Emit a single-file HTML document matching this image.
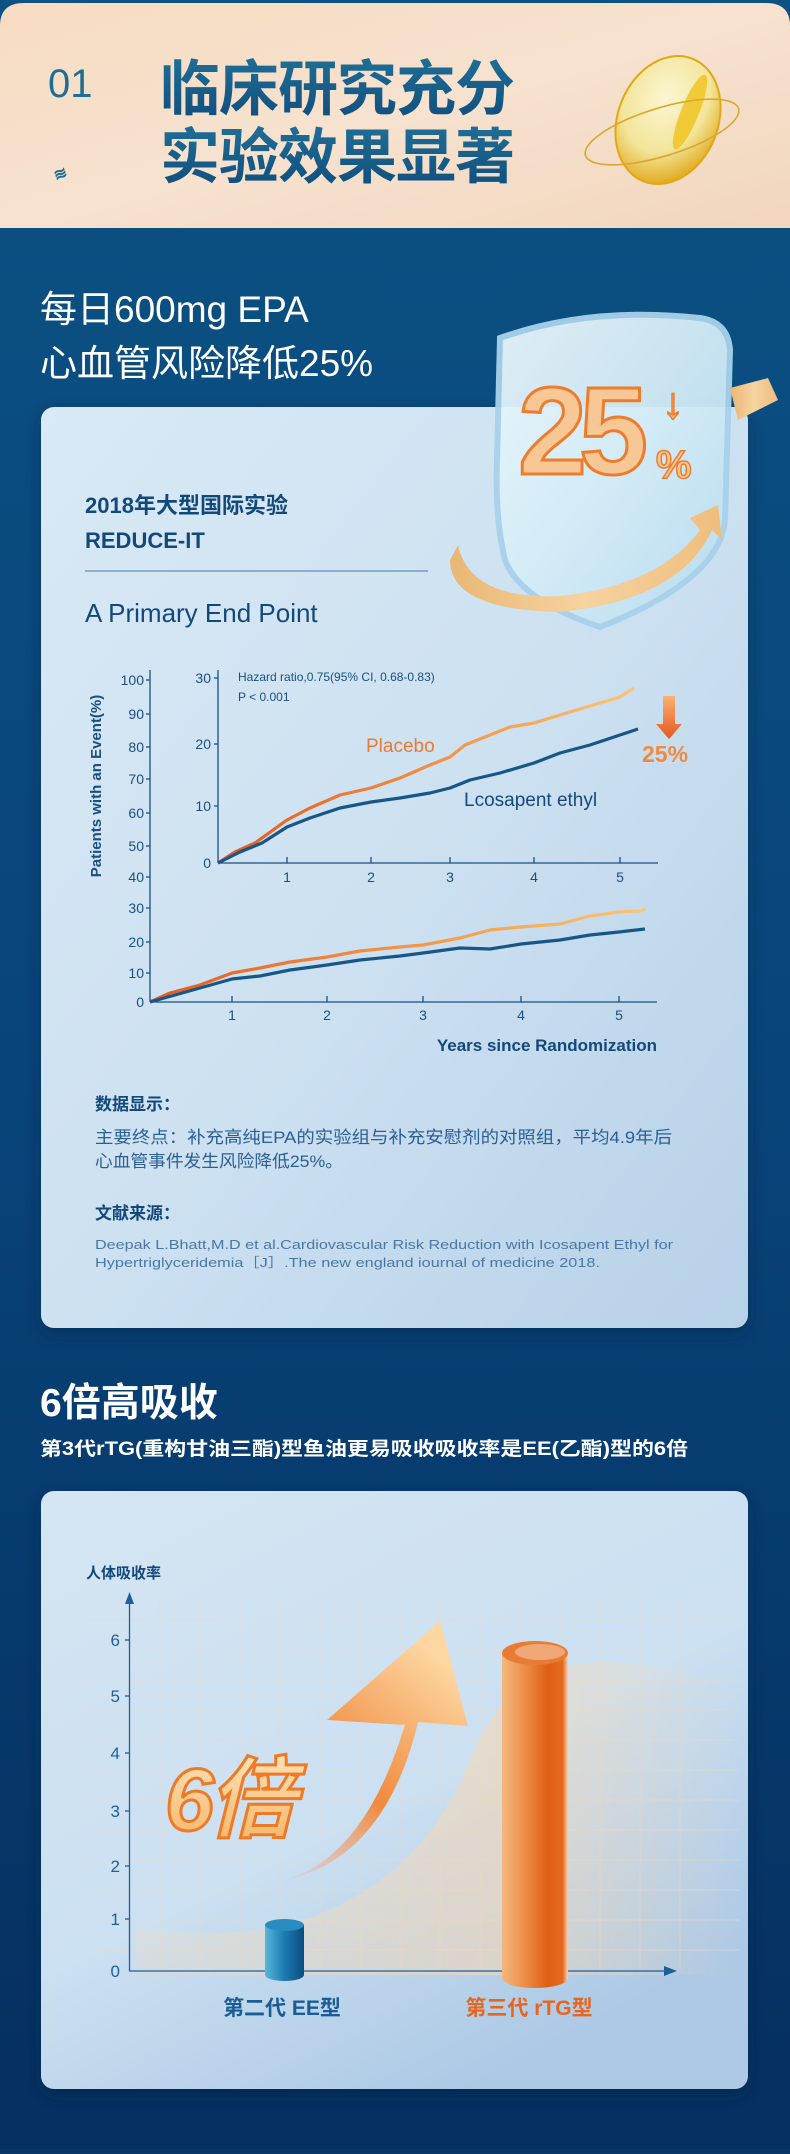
<!DOCTYPE html>
<html><head><meta charset="utf-8"><style>
html,body{margin:0;padding:0;background:#073664;}
body{width:790px;height:2149px;overflow:hidden;}
svg text{font-family:"Liberation Sans","Noto Sans CJK SC",sans-serif;}
</style></head><body>
<svg width="790" height="2149" viewBox="0 0 790 2149" xmlns="http://www.w3.org/2000/svg">
<defs>
<linearGradient id="bg" x1="0" y1="0" x2="0" y2="1">
<stop offset="0" stop-color="#0c5283"/><stop offset="0.5" stop-color="#08447a"/><stop offset="1" stop-color="#052f5f"/></linearGradient>
<linearGradient id="hdr" x1="0" y1="0" x2="1" y2="1">
<stop offset="0" stop-color="#f7dcc2"/><stop offset="0.5" stop-color="#f6e2cf"/><stop offset="1" stop-color="#f2d6bd"/></linearGradient>
<linearGradient id="ttl" x1="0" y1="0" x2="0" y2="1">
<stop offset="0" stop-color="#1f6f97"/><stop offset="1" stop-color="#104d7c"/></linearGradient>
<linearGradient id="card1" x1="0" y1="0" x2="1" y2="1">
<stop offset="0" stop-color="#d9e9f5"/><stop offset="0.5" stop-color="#cde1f1"/><stop offset="1" stop-color="#b7d1e8"/></linearGradient>
<linearGradient id="card2" x1="0" y1="0" x2="0.6" y2="1">
<stop offset="0" stop-color="#d5e5f3"/><stop offset="0.6" stop-color="#cbe0f1"/><stop offset="1" stop-color="#adc9e5"/></linearGradient>
<linearGradient id="plc" gradientUnits="userSpaceOnUse" x1="218" y1="0" x2="640" y2="0">
<stop offset="0" stop-color="#e4581f"/><stop offset="0.45" stop-color="#ef8a3e"/><stop offset="1" stop-color="#fcc676"/></linearGradient>
<linearGradient id="plc2" gradientUnits="userSpaceOnUse" x1="150" y1="0" x2="650" y2="0">
<stop offset="0" stop-color="#e4581f"/><stop offset="0.4" stop-color="#ef8a3e"/><stop offset="1" stop-color="#fcc676"/></linearGradient>
<linearGradient id="arr" x1="0" y1="0" x2="0" y2="1">
<stop offset="0" stop-color="#f9b272"/><stop offset="1" stop-color="#e4581f"/></linearGradient>
<linearGradient id="orcyl" x1="0" y1="0" x2="1" y2="0">
<stop offset="0" stop-color="#f3b880"/><stop offset="0.35" stop-color="#ec8c45"/><stop offset="0.7" stop-color="#df5e14"/><stop offset="0.92" stop-color="#e46a1f"/><stop offset="1" stop-color="#f7d4b5"/></linearGradient>
<linearGradient id="blcyl" x1="0" y1="0" x2="1" y2="0">
<stop offset="0" stop-color="#5ab6dc"/><stop offset="0.5" stop-color="#1b7bb1"/><stop offset="1" stop-color="#0c4c80"/></linearGradient>
<linearGradient id="bigarr" x1="0" y1="1" x2="0.6" y2="0">
<stop offset="0" stop-color="#f3b19a" stop-opacity="0.2"/><stop offset="0.45" stop-color="#f08a3e"/><stop offset="1" stop-color="#fdd6a0"/></linearGradient>
<linearGradient id="six" x1="0" y1="0" x2="0" y2="1">
<stop offset="0" stop-color="#fde3bb"/><stop offset="1" stop-color="#f5b466"/></linearGradient>
<linearGradient id="wave" x1="0" y1="0" x2="1" y2="0">
<stop offset="0" stop-color="#f8d9b8" stop-opacity="0.25"/><stop offset="0.6" stop-color="#f8d6b0" stop-opacity="0.55"/><stop offset="1" stop-color="#f8d6b0" stop-opacity="0"/></linearGradient>
<linearGradient id="shield" x1="0" y1="0" x2="1" y2="1">
<stop offset="0" stop-color="#eaf6fc"/><stop offset="0.5" stop-color="#d3ecf7"/><stop offset="1" stop-color="#b7dcef"/></linearGradient>
<linearGradient id="gold" x1="0" y1="0" x2="1" y2="0">
<stop offset="0" stop-color="#e9b774"/><stop offset="0.5" stop-color="#f6d3a0"/><stop offset="1" stop-color="#eebd7c"/></linearGradient>
<radialGradient id="caps" cx="0.4" cy="0.35" r="0.7">
<stop offset="0" stop-color="#fbf6d4"/><stop offset="0.6" stop-color="#f3e59a"/><stop offset="1" stop-color="#e0a615"/></radialGradient>
<filter id="sh" x="-10%" y="-10%" width="120%" height="130%"><feDropShadow dx="0" dy="6" stdDeviation="8" flood-color="#02203f" flood-opacity="0.45"/></filter>
</defs>

<rect width="790" height="2149" fill="url(#bg)"/>
<path d="M0,26 Q0,3 24,3 L766,3 Q790,3 790,26 L790,228 L0,228 Z" fill="url(#hdr)"/>
<text x="48" y="97" font-size="40" fill="#1f6d94">01</text>
<text x="54" y="180" font-size="16" fill="#1f6d94" font-weight="bold" transform="rotate(-20 58 175)">≋</text>
<text x="160" y="110" font-size="60" font-weight="bold" fill="url(#ttl)" letter-spacing="-1">临床研究充分</text>
<text x="160" y="178" font-size="60" font-weight="bold" fill="url(#ttl)" letter-spacing="-1">实验效果显著</text>
<ellipse cx="668" cy="120" rx="50" ry="66" transform="rotate(22 668 120)" fill="url(#caps)" stroke="#e0a812" stroke-width="2"/>
<ellipse cx="690" cy="112" rx="9" ry="40" transform="rotate(22 690 112)" fill="#f0c21a" opacity="0.8"/>
<ellipse cx="662" cy="132" rx="80" ry="24" transform="rotate(-17 662 132)" fill="none" stroke="#d9a830" stroke-width="1.6"/>

<text x="40" y="322" font-size="37" fill="#ffffff">每日600mg EPA</text>
<text x="40" y="376" font-size="37" fill="#ffffff">心血管风险降低25%</text>

<rect x="41" y="407" width="707" height="921" rx="13" fill="url(#card1)" filter="url(#sh)"/>
<text x="85" y="513" font-size="22" font-weight="bold" fill="#13497a">2018年大型国际实验</text>
<text x="85" y="548" font-size="22" font-weight="bold" fill="#13497a">REDUCE-IT</text>
<line x1="85" y1="571" x2="428" y2="571" stroke="#4a78a2" stroke-width="1"/>
<text x="85" y="622" font-size="26" fill="#13497a">A Primary End Point</text>

<path d="M500,338 Q590,306 700,318 Q728,322 730,350 L725,520 Q720,580 600,627 Q520,600 505,560 Q495,520 497,460 Z" fill="url(#shield)" stroke="#a8d2ea" stroke-width="6" opacity="0.95"/>
<path d="M458,545 Q470,600 560,596 Q660,585 700,530 L690,518 L718,505 L722,540 L712,530 Q680,600 560,612 Q450,610 450,560 Z" fill="url(#gold)"/>
<path d="M730,388 L768,378 L778,400 L738,420 Z" fill="url(#gold)"/>
<text x="518" y="474" font-size="124" font-weight="bold" fill="#f7c896" stroke="#ee7c2a" stroke-width="3" letter-spacing="-8">25</text>
<text x="662" y="418" font-size="44" font-weight="bold" fill="#f7c896" stroke="#ee7c2a" stroke-width="1.5">↓</text>
<text x="656" y="478" font-size="40" font-weight="bold" fill="#f7c896" stroke="#ee7c2a" stroke-width="1.5">%</text>

<g font-size="14" fill="#1a4f80" stroke="none" text-anchor="end">
<text x="144" y="685">100</text><text x="144" y="719">90</text><text x="144" y="752">80</text><text x="144" y="784">70</text><text x="144" y="818">60</text><text x="144" y="851">50</text><text x="144" y="882">40</text><text x="144" y="913">30</text><text x="144" y="947">20</text><text x="144" y="978">10</text><text x="144" y="1007">0</text>
</g>
<g stroke="#1a4f80" stroke-width="1.3">
<line x1="150" y1="670" x2="150" y2="1002"/><line x1="150" y1="1002" x2="657" y2="1002"/>
<line x1="146" y1="680" x2="150" y2="680"/><line x1="146" y1="714" x2="150" y2="714"/><line x1="146" y1="747" x2="150" y2="747"/><line x1="146" y1="779" x2="150" y2="779"/><line x1="146" y1="813" x2="150" y2="813"/><line x1="146" y1="846" x2="150" y2="846"/><line x1="146" y1="877" x2="150" y2="877"/><line x1="146" y1="908" x2="150" y2="908"/><line x1="146" y1="942" x2="150" y2="942"/><line x1="146" y1="973" x2="150" y2="973"/>
<line x1="232" y1="1002" x2="232" y2="996"/><line x1="327" y1="1002" x2="327" y2="996"/><line x1="423" y1="1002" x2="423" y2="996"/><line x1="521" y1="1002" x2="521" y2="996"/><line x1="619" y1="1002" x2="619" y2="996"/>
<line x1="218" y1="670" x2="218" y2="863"/><line x1="218" y1="863" x2="658" y2="863"/>
<line x1="214" y1="678" x2="218" y2="678"/><line x1="214" y1="744" x2="218" y2="744"/><line x1="214" y1="806" x2="218" y2="806"/>
<line x1="287" y1="863" x2="287" y2="857"/><line x1="371" y1="863" x2="371" y2="857"/><line x1="450" y1="863" x2="450" y2="857"/><line x1="534" y1="863" x2="534" y2="857"/><line x1="620" y1="863" x2="620" y2="857"/>
</g>
<g font-size="14" fill="#1a4f80" text-anchor="middle">
<text x="232" y="1020">1</text><text x="327" y="1020">2</text><text x="423" y="1020">3</text><text x="521" y="1020">4</text><text x="619" y="1020">5</text>
<text x="287" y="882">1</text><text x="371" y="882">2</text><text x="450" y="882">3</text><text x="534" y="882">4</text><text x="620" y="882">5</text>
</g>
<g font-size="14" fill="#1a4f80" text-anchor="end">
<text x="211" y="683">30</text><text x="211" y="749">20</text><text x="211" y="811">10</text><text x="211" y="868">0</text>
</g>
<text transform="translate(101 786) rotate(-90)" text-anchor="middle" font-size="15" font-weight="bold" fill="#1a4f80">Patients with an Event(%)</text>
<text x="657" y="1051" text-anchor="end" font-size="17" font-weight="bold" fill="#13497a">Years since Randomization</text>
<text x="238" y="681" font-size="12" fill="#1a4f80">Hazard ratio,0.75(95% CI, 0.68-0.83)</text>
<text x="238" y="701" font-size="12" fill="#1a4f80">P &lt; 0.001</text>
<text x="366" y="752" font-size="19" fill="#ec7a32">Placebo</text>
<text x="464" y="806" font-size="19" fill="#13497a">Lcosapent ethyl</text>
<path d="M663,696 L675,696 L675,724 L682,724 L669,739 L656,724 L663,724 Z" fill="url(#arr)"/>
<text x="642" y="762" font-size="23" font-weight="bold" fill="#f08a3e">25%</text>

<g fill="none" stroke-width="3.2" stroke-linejoin="round">
<polyline stroke="url(#plc)" points="218,863 235,852 255,843 287,820 310,808 340,795 371,788 400,778 430,765 450,757 465,745 490,735 510,727 534,723 560,715 590,706 620,697 634,688"/>
<polyline stroke="#175787" points="218,863 240,852 262,843 287,827 310,818 340,808 371,802 400,798 430,793 450,788 470,780 500,773 534,763 560,753 590,745 620,735 638,729"/>
<polyline stroke="url(#plc2)" points="150,1002 170,993 200,985 232,973 260,968 290,962 327,957 360,951 400,947 423,945 460,938 490,930 521,927 560,924 590,916 619,912 640,911 646,909"/>
<polyline stroke="#175787" points="150,1002 175,995 200,988 232,979 260,976 290,970 327,965 360,960 400,956 423,953 460,948 490,949 521,944 560,940 590,935 619,932 645,929"/>
</g>

<text x="95" y="1110" font-size="17" font-weight="bold" fill="#13497a">数据显示：</text>
<text x="95" y="1143" font-size="17" fill="#2b5f93" textLength="577" lengthAdjust="spacingAndGlyphs">主要终点：补充高纯EPA的实验组与补充安慰剂的对照组，平均4.9年后</text>
<text x="95" y="1167" font-size="17" fill="#2b5f93" textLength="248" lengthAdjust="spacingAndGlyphs">心血管事件发生风险降低25%。</text>
<text x="95" y="1219" font-size="17" font-weight="bold" fill="#13497a">文献来源：</text>
<text x="95" y="1249" font-size="13" fill="#4a78a2" textLength="578" lengthAdjust="spacingAndGlyphs">Deepak L.Bhatt,M.D et al.Cardiovascular Risk Reduction with Icosapent Ethyl for</text>
<text x="95" y="1267" font-size="13" fill="#4a78a2" textLength="505" lengthAdjust="spacingAndGlyphs">Hypertriglyceridemia［J］.The new england iournal of medicine 2018.</text>

<text x="40" y="1416" font-size="39" font-weight="bold" fill="#ffffff">6倍高吸收</text>
<text x="40" y="1455" font-size="19" font-weight="bold" fill="#ffffff" textLength="648" lengthAdjust="spacingAndGlyphs">第3代rTG(重构甘油三酯)型鱼油更易吸收吸收率是EE(乙酯)型的6倍</text>

<rect x="41" y="1491" width="707" height="598" rx="13" fill="url(#card2)" filter="url(#sh)"/>
<g stroke="#e8d8c8" stroke-width="0.7" opacity="0.7">
<line x1="90" y1="1620" x2="740" y2="1620"/><line x1="90" y1="1650" x2="740" y2="1650"/><line x1="90" y1="1680" x2="740" y2="1680"/><line x1="90" y1="1710" x2="740" y2="1710"/><line x1="90" y1="1740" x2="740" y2="1740"/><line x1="90" y1="1770" x2="740" y2="1770"/><line x1="90" y1="1800" x2="740" y2="1800"/><line x1="90" y1="1830" x2="740" y2="1830"/><line x1="90" y1="1860" x2="740" y2="1860"/><line x1="90" y1="1890" x2="740" y2="1890"/><line x1="90" y1="1920" x2="740" y2="1920"/><line x1="90" y1="1950" x2="740" y2="1950"/>
<line x1="160" y1="1600" x2="160" y2="1970"/><line x1="200" y1="1600" x2="200" y2="1970"/><line x1="240" y1="1600" x2="240" y2="1970"/><line x1="280" y1="1600" x2="280" y2="1970"/><line x1="320" y1="1600" x2="320" y2="1970"/><line x1="360" y1="1600" x2="360" y2="1970"/><line x1="400" y1="1600" x2="400" y2="1970"/><line x1="440" y1="1600" x2="440" y2="1970"/><line x1="480" y1="1600" x2="480" y2="1970"/><line x1="520" y1="1600" x2="520" y2="1970"/><line x1="560" y1="1600" x2="560" y2="1970"/><line x1="600" y1="1600" x2="600" y2="1970"/><line x1="640" y1="1600" x2="640" y2="1970"/><line x1="680" y1="1600" x2="680" y2="1970"/>
</g>
<path d="M135,1928 Q260,1945 340,1905 Q430,1860 470,1760 Q510,1660 610,1662 Q680,1665 740,1690 L740,1975 L135,1975 Z" fill="url(#wave)"/>
<text x="86" y="1578" font-size="15" font-weight="bold" fill="#13497a">人体吸收率</text>
<g stroke="#1d5f9a" stroke-width="1.3">
<line x1="129.5" y1="1600" x2="129.5" y2="1971"/><line x1="129" y1="1971" x2="668" y2="1971"/>
<line x1="125" y1="1640" x2="129" y2="1640"/><line x1="125" y1="1696" x2="129" y2="1696"/><line x1="125" y1="1753" x2="129" y2="1753"/><line x1="125" y1="1811" x2="129" y2="1811"/><line x1="125" y1="1866" x2="129" y2="1866"/><line x1="125" y1="1919" x2="129" y2="1919"/>
</g>
<path d="M129.5,1592 L134,1604 L125,1604 Z" fill="#1d5f9a"/>
<path d="M677,1971 L664,1966 L664,1976 Z" fill="#1d5f9a"/>
<g font-size="17" fill="#1d5f9a" text-anchor="end">
<text x="120" y="1646">6</text><text x="120" y="1702">5</text><text x="120" y="1759">4</text><text x="120" y="1817">3</text><text x="120" y="1872">2</text><text x="120" y="1925">1</text><text x="120" y="1977">0</text>
</g>
<path d="M265,1925 L265,1975 A19.5,6 0 0 0 304,1975 L304,1925 Z" fill="url(#blcyl)"/>
<ellipse cx="284.5" cy="1925" rx="19.5" ry="6" fill="#2a8cc0"/>
<path d="M502,1653 L502,1978 A33,10 0 0 0 568,1978 L568,1653 Z" fill="url(#orcyl)"/>
<ellipse cx="535" cy="1653" rx="33" ry="12" fill="#e97c35"/>
<ellipse cx="540" cy="1652" rx="25" ry="8" fill="#f7c6a4" opacity="0.6"/>
<path d="M282,1881 Q360,1860 400,1740 L405,1725 L327,1720 L440,1621 L468,1726 L418,1722 Q385,1860 282,1881 Z" fill="url(#bigarr)"/>
<text x="165" y="1830" font-size="88" font-weight="bold" font-style="italic" fill="url(#six)" stroke="#ee7a25" stroke-width="3" letter-spacing="-6">6倍</text>
<text x="282" y="2015" text-anchor="middle" font-size="21" font-weight="bold" fill="#1a5d96">第二代 EE型</text>
<text x="529" y="2015" text-anchor="middle" font-size="21" font-weight="bold" fill="#e8651f">第三代 rTG型</text>
</svg>
</body></html>
